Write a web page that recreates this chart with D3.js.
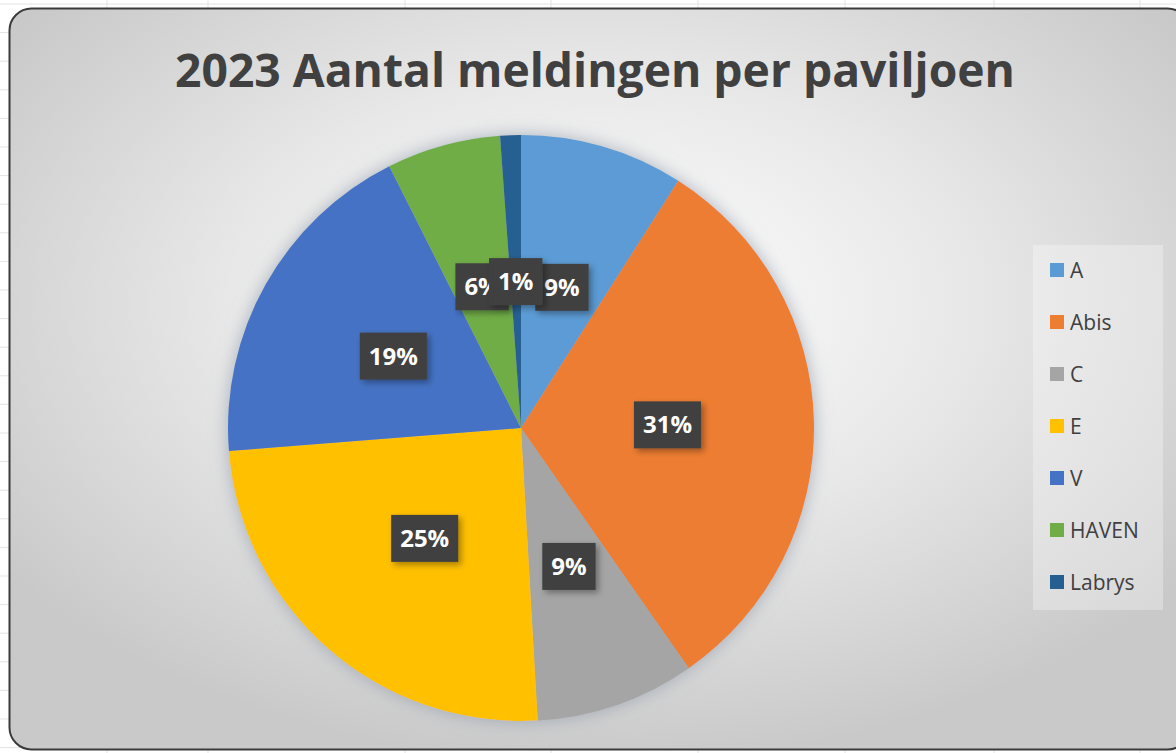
<!DOCTYPE html>
<html>
<head>
<meta charset="utf-8">
<script src="https://cdn.jsdelivr.net/npm/d3@7"></script>
<style>
  body { margin: 0; background: #ffffff; }
  svg { display: block; }
</style>
</head>
<body>
<div id="chart"></div>
<script>
// data
var paviljoenen = ["A", "Abis", "C", "E", "V", "HAVEN", "Labrys"];
var meldingen = [79, 274, 77, 216, 165, 55, 10];
var kleuren = ["#5B9BD5", "#ED7D31", "#A5A5A5", "#FFC000", "#4472C4", "#70AD47", "#255E91"];
var titel = "2023 Aantal meldingen per paviljoen";

var W = 1176, H = 753;
var box = { x: 9.5, y: 8.5, w: 1180, h: 741 };
var cx = 521, cy = 428, r = 293;
var font = "'Open Sans', 'Noto Sans', sans-serif";

var data = paviljoenen.map(function (d, i) {
  return { name: d, value: meldingen[i] };
});
var total = d3.sum(meldingen);

var color = d3.scaleOrdinal().domain(paviljoenen).range(kleuren);

var svg = d3
  .select("#chart")
  .append("svg")
  .attr("width", W)
  .attr("height", H);

var defs = svg.append("defs");

var grad = defs
  .append("radialGradient")
  .attr("id", "bg")
  .attr("cx", "50%")
  .attr("cy", "40%")
  .attr("r", "62%");
grad.append("stop").attr("offset", "0%").attr("stop-color", "#ffffff");
grad.append("stop").attr("offset", "50%").attr("stop-color", "#e8e8e8");
grad.append("stop").attr("offset", "100%").attr("stop-color", "#c9c9c9");

var pieShadow = defs
  .append("filter")
  .attr("id", "pieShadow")
  .attr("x", "-20%")
  .attr("y", "-20%")
  .attr("width", "140%")
  .attr("height", "140%");
pieShadow
  .append("feDropShadow")
  .attr("dx", 0)
  .attr("dy", 0)
  .attr("stdDeviation", 9)
  .attr("flood-color", "#8a98a8")
  .attr("flood-opacity", 0.7);

var labelShadow = defs
  .append("filter")
  .attr("id", "labelShadow")
  .attr("x", "-30%")
  .attr("y", "-30%")
  .attr("width", "160%")
  .attr("height", "160%");
labelShadow
  .append("feDropShadow")
  .attr("dx", 3)
  .attr("dy", 3)
  .attr("stdDeviation", 3)
  .attr("flood-color", "#000000")
  .attr("flood-opacity", 0.35);

// faint spreadsheet grid behind the chart
var gridX = [107, 208, 405, 551, 698, 845, 994, 1140];
var gridY = d3.range(4, H, 28.6);
svg
  .append("g")
  .selectAll("line.gx")
  .data(gridX)
  .enter()
  .append("line")
  .attr("x1", (d) => d)
  .attr("x2", (d) => d)
  .attr("y1", 0)
  .attr("y2", H)
  .attr("stroke", "#e3e3e3");
svg
  .append("g")
  .selectAll("line.gy")
  .data(gridY)
  .enter()
  .append("line")
  .attr("x1", 0)
  .attr("x2", W)
  .attr("y1", (d) => d)
  .attr("y2", (d) => d)
  .attr("stroke", "#e3e3e3");

// chart area
svg
  .append("rect")
  .attr("x", box.x)
  .attr("y", box.y)
  .attr("width", box.w)
  .attr("height", box.h)
  .attr("rx", 22)
  .attr("fill", "url(#bg)")
  .attr("stroke", "#3a3a3a")
  .attr("stroke-width", 2);

// title
var title = svg
  .append("text")
  .attr("x", 595)
  .attr("y", 87)
  .attr("text-anchor", "middle")
  .style("font-family", font)
  .style("font-weight", "bold")
  .style("font-size", "46px")
  .style("fill", "#404040")
  .text(titel);
var tw = title.node().getComputedTextLength();
title.style("font-size", (46 * 840) / tw + "px");

// pie
var pie = d3.pie().sort(null).value((d) => d.value);
var arc = d3.arc().innerRadius(0).outerRadius(r);
var labelArc = d3.arc().innerRadius(r * 0.5).outerRadius(r * 0.5);

var g = svg
  .append("g")
  .attr("transform", "translate(" + cx + "," + cy + ")");

g.append("g")
  .attr("filter", "url(#pieShadow)")
  .selectAll("path")
  .data(pie(data))
  .enter()
  .append("path")
  .attr("d", arc)
  .attr("fill", (d) => color(d.data.name));

// data labels
var labels = g
  .selectAll(".label")
  .data(pie(data))
  .enter()
  .append("g")
  .attr("class", "label")
  .attr("transform", function (d) {
    var c = labelArc.centroid(d);
    return "translate(" + c[0] + "," + c[1] + ")";
  });

labels.each(function (d) {
  var lg = d3.select(this);
  var bg = lg
    .append("rect")
    .attr("fill", "#404040")
    .attr("filter", "url(#labelShadow)");
  var t = lg
    .append("text")
    .attr("text-anchor", "middle")
    .attr("dy", "0.36em")
    .style("font-family", font)
    .style("font-weight", "bold")
    .style("font-size", "24px")
    .style("fill", "#ffffff")
    .text(Math.round((d.data.value / total) * 100) + "%");
  var w = t.node().getComputedTextLength();
  bg.attr("x", -w / 2 - 9)
    .attr("y", -23.5)
    .attr("width", w + 18)
    .attr("height", 47);
});

// legend
var legend = svg
  .append("g")
  .attr("transform", "translate(1033,245)");

legend
  .append("rect")
  .attr("width", 130)
  .attr("height", 365)
  .attr("fill", "#ffffff")
  .attr("fill-opacity", 0.3);

var items = legend
  .selectAll(".legend")
  .data(paviljoenen)
  .enter()
  .append("g")
  .attr("class", "legend")
  .attr("transform", function (d, i) {
    return "translate(17," + (25 + i * 52) + ")";
  });

items
  .append("rect")
  .attr("x", 0)
  .attr("y", -7)
  .attr("width", 14)
  .attr("height", 14)
  .attr("fill", (d) => color(d));

items
  .append("text")
  .attr("x", 20)
  .attr("dy", "0.36em")
  .style("font-family", font)
  .style("font-size", "21px")
  .style("fill", "#404040")
  .text((d) => d);
</script>
</body>
</html>
